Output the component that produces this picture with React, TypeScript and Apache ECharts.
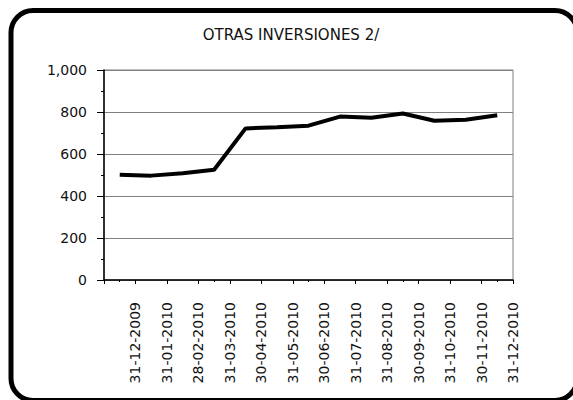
import React, { useEffect, useRef } from "react";
import * as echarts from "echarts";

const title = "OTRAS INVERSIONES 2/";
const dates = [
  "31-12-2009", "31-01-2010", "28-02-2010", "31-03-2010", "30-04-2010",
  "31-05-2010", "30-06-2010", "31-07-2010", "31-08-2010", "30-09-2010",
  "31-10-2010", "30-11-2010", "31-12-2010",
];
const values = [501, 497, 508, 525, 722, 727, 735, 778, 773, 793, 758, 763, 785];
const yMin = 0;
const yMax = 1000;
const yStep = 200;

const FONT = "DejaVu Sans";

export default function App() {
  const ref = useRef<HTMLDivElement>(null);
  useEffect(() => {
    if (!ref.current) return;
    const chart = echarts.init(ref.current, null, { renderer: "svg" });
    chart.setOption({
      animation: false,
      backgroundColor: "#ffffff",
      textStyle: { fontFamily: FONT },
      grid: {
        left: 104,
        right: 60,
        top: 70,
        bottom: 120,
        show: true,
        borderColor: "#808080",
        borderWidth: 1,
        containLabel: false,
      },
      xAxis: [
        {
          type: "category",
          data: dates,
          boundaryGap: true,
          position: "bottom",
          axisLine: { show: true, lineStyle: { color: "#000", width: 1.5 } },
          axisTick: { show: true, alignWithLabel: true, length: 2, lineStyle: { color: "#000" } },
          axisLabel: { show: false },
          splitLine: { show: false },
        },
        {
          type: "category",
          data: ["", ...dates],
          boundaryGap: false,
          position: "bottom",
          axisLine: { show: false },
          axisTick: { show: true, interval: 0, length: 4, lineStyle: { color: "#000" } },
          axisLabel: {
            show: true,
            interval: 0,
            rotate: 90,
            margin: 22,
            fontSize: 14,
            color: "#111",
            fontFamily: FONT,
          },
          splitLine: { show: false },
        },
      ],
      yAxis: {
        type: "value",
        min: yMin,
        max: yMax,
        interval: yStep,
        axisLine: { show: true, lineStyle: { color: "#000", width: 1.5 } },
        axisTick: { show: true, length: 7, lineStyle: { color: "#000" } },
        minorTick: { show: true, splitNumber: 2, length: 3, lineStyle: { color: "#000" } },
        axisLabel: {
          margin: 17,
          fontSize: 14,
          color: "#111",
          fontFamily: FONT,
          formatter: (v: number) => v.toLocaleString("en-US"),
        },
        splitLine: { show: true, lineStyle: { color: "#808080", width: 1 } },
      },
      series: [
        {
          type: "line",
          xAxisIndex: 0,
          data: values,
          showSymbol: false,
          symbol: "none",
          lineStyle: { color: "#000", width: 4 },
          z: 5,
        },
      ],
      graphic: [
        {
          type: "text",
          x: 291,
          y: 35,
          style: {
            text: title,
            fontSize: 15,
            fontFamily: FONT,
            fill: "#111",
            textAlign: "center",
            textVerticalAlign: "middle",
          },
        },
        {
          type: "rect",
          shape: { x: 11, y: 10.5, width: 566, height: 390, r: 22 },
          style: { fill: "none", stroke: "#000", lineWidth: 5 },
          silent: true,
        },
      ],
    });
    return () => chart.dispose();
  }, []);
  return (
    <div
      ref={ref}
      style={{ position: "fixed", left: 0, top: 0, width: 573, height: 400 }}
    />
  );
}
